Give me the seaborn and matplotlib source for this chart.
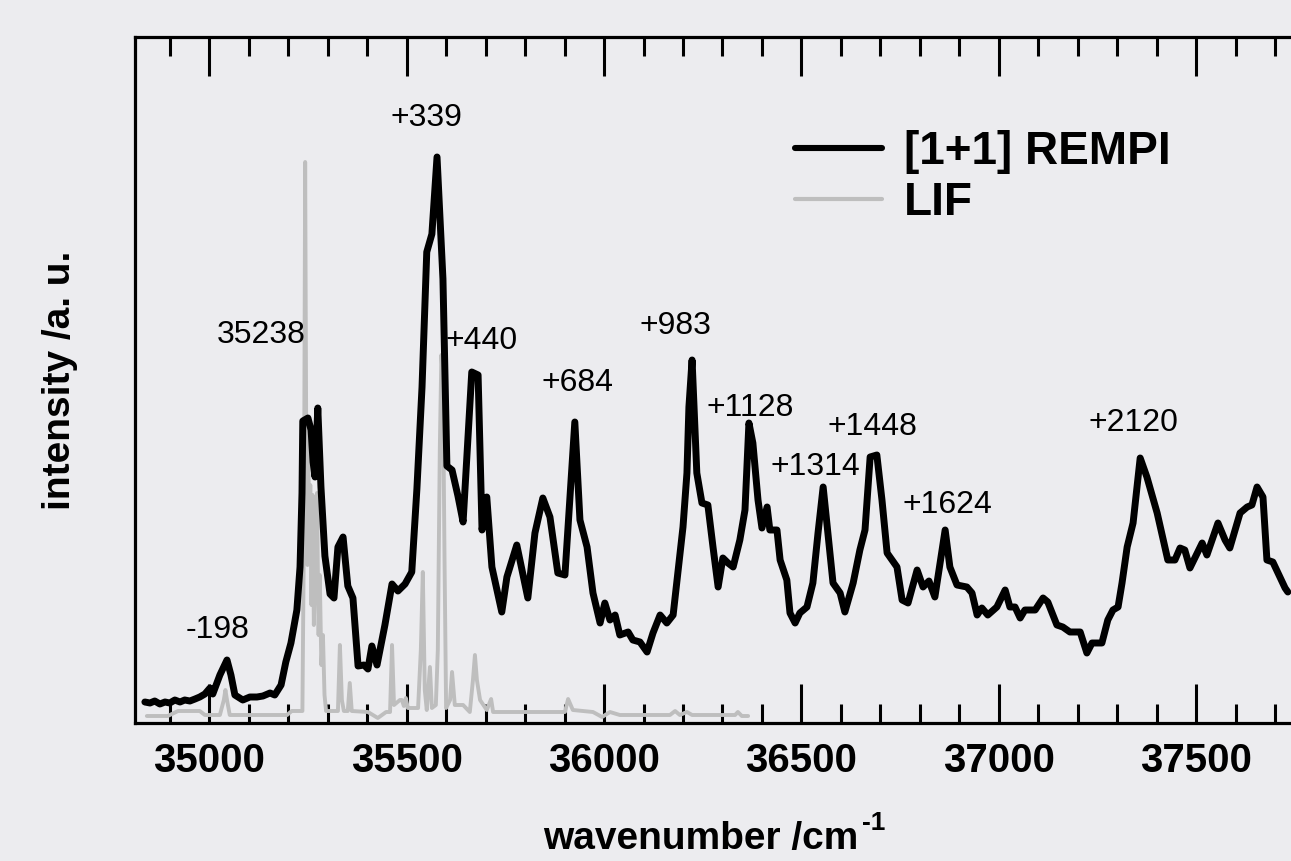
import matplotlib
matplotlib.use("Agg")
import matplotlib.pyplot as plt
import seaborn as sns
import pandas as pd
from matplotlib.ticker import MultipleLocator

# ---------------- data ----------------
rempi_wn = [34837, 34850, 34862, 34875, 34888, 34900, 34913, 34926, 34938, 34951,
            34964, 34976, 34989, 35002, 35009, 35027, 35045, 35055, 35065, 35085,
            35103, 35121, 35136, 35154, 35166, 35182, 35194, 35207, 35222, 35230,
            35235, 35237, 35250, 35258, 35263, 35268, 35275, 35283, 35293, 35306,
            35316, 35326, 35339, 35351, 35364, 35377, 35392, 35402, 35412, 35425,
            35445, 35463, 35478, 35496, 35513, 35526, 35539, 35551, 35564, 35577,
            35584, 35592, 35602, 35615, 35630, 35643, 35665, 35681, 35691, 35703,
            35716, 35741, 35754, 35779, 35807, 35825, 35845, 35863, 35883, 35901,
            35926, 35939, 35957, 35972, 35990, 36002, 36015, 36028, 36040, 36061,
            36073, 36091, 36109, 36124, 36142, 36159, 36175, 36187, 36200, 36210,
            36215, 36223, 36235, 36248, 36263, 36276, 36289, 36301, 36314, 36327,
            36344, 36357, 36367, 36377, 36390, 36400, 36413, 36420, 36438, 36446,
            36463, 36471, 36484, 36496, 36514, 36529, 36542, 36555, 36567, 36580,
            36598, 36610, 36631, 36648, 36661, 36674, 36691, 36704, 36717, 36742,
            36755, 36770, 36793, 36808, 36823, 36838, 36864, 36876, 36894, 36919,
            36932, 36945, 36957, 36972, 36995, 37016, 37028, 37041, 37054, 37066,
            37092, 37112, 37124, 37147, 37162, 37180, 37206, 37223, 37236, 37261,
            37276, 37289, 37302, 37312, 37325, 37340, 37358, 37375, 37401, 37428,
            37446, 37459, 37471, 37484, 37515, 37527, 37555, 37573, 37585, 37611,
            37629, 37641, 37654, 37669, 37679, 37694, 37725, 37732]
rempi_int = [23, 22, 24, 21, 23, 22, 25, 23, 25, 24,
             26, 28, 31, 37, 31, 50, 65, 50, 30, 25,
             28, 28, 29, 32, 30, 40, 63, 82, 115, 158,
             232, 304, 307, 295, 263, 248, 317, 238, 169, 131,
             127, 178, 188, 139, 127, 59, 60, 56, 79, 60,
             100, 141, 134, 141, 153, 236, 338, 473, 491, 568,
             510, 446, 259, 255, 229, 203, 353, 350, 195, 228,
             158, 113, 148, 180, 127, 192, 227, 208, 152, 150,
             303, 205, 178, 132, 102, 122, 105, 110, 90, 93,
             85, 83, 73, 92, 110, 102, 110, 152, 198, 252,
             318, 365, 252, 222, 220, 178, 138, 167, 162, 158,
             185, 215, 302, 282, 225, 197, 218, 195, 195, 165,
             145, 112, 102, 112, 118, 142, 192, 238, 192, 142,
             132, 113, 142, 175, 195, 268, 270, 225, 172, 158,
             125, 122, 155, 138, 144, 128, 195, 158, 140, 138,
             132, 110, 117, 110, 118, 135, 118, 118, 107, 115,
             115, 127, 123, 100, 98, 93, 93, 72, 82, 82,
             105, 115, 118, 142, 178, 202, 267, 248, 212, 165,
             165, 177, 175, 157, 182, 170, 202, 185, 177, 212,
             218, 220, 238, 228, 165, 163, 137, 133]

lif_wn = [34842, 34895, 34921, 34976, 34989, 35027, 35037, 35041, 35045, 35052,
          35197, 35209, 35236, 35240, 35243, 35246, 35249, 35251, 35253, 35256,
          35259, 35262, 35265, 35268, 35273, 35277, 35280, 35284, 35288, 35292,
          35296, 35326, 35331, 35336, 35341, 35351, 35356, 35361, 35402, 35427,
          35448, 35458, 35463, 35468, 35483, 35488, 35493, 35498, 35503, 35529,
          35536, 35541, 35546, 35551, 35559, 35564, 35574, 35579, 35584, 35588,
          35592, 35596, 35600, 35610, 35615, 35622, 35643, 35660, 35668, 35673,
          35678, 35686, 35703, 35714, 35719, 35901, 35909, 35921, 35972, 35995,
          36015, 36040, 36167, 36180, 36192, 36210, 36223, 36332, 36339, 36349,
          36365]
lif_int = [9, 9, 14, 14, 10, 10, 25, 35, 25, 10,
           10, 14, 14, 200, 563, 250, 160, 300, 180, 240,
           120, 230, 100, 150, 232, 90, 150, 60, 90, 30,
           14, 14, 80, 25, 14, 14, 42, 14, 13, 7,
           13, 13, 80, 20, 25, 25, 19, 27, 17, 17,
           75, 153, 35, 15, 58, 17, 20, 75, 275, 370,
           345, 165, 17, 25, 53, 20, 20, 13, 45, 70,
           45, 25, 15, 26, 13, 13, 26, 15, 13, 8,
           13, 10, 10, 14, 10, 13, 10, 10, 13, 9,
           9]

series_names = ["[1+1] REMPI", "LIF"]

peak_labels = ["-198", "35238", "+339", "+440", "+684", "+983", "+1128",
               "+1314", "+1448", "+1624", "+2120"]
label_x = [35022, 35132, 35551, 35691, 35934, 36180, 36370, 36535, 36679, 36869, 37342]
label_y = [95, 390, 607, 384, 342, 399, 317, 258, 298, 220, 302]

# ---------------- figure ----------------
sns.set_theme(style="white")
plt.rcParams["font.family"] = ["Liberation Sans", "DejaVu Sans"]
plt.rcParams["text.color"] = "black"
plt.rcParams["axes.labelcolor"] = "black"
plt.rcParams["xtick.color"] = "black"
plt.rcParams["ytick.color"] = "black"
bg = "#ECECEF"
colors = {series_names[0]: "black", series_names[1]: "#BEBEBE"}
widths = {series_names[0]: 5.0, series_names[1]: 2.8}

df = pd.concat([
    pd.DataFrame({"wavenumber": rempi_wn, "intensity": rempi_int, "spectrum": series_names[0]}),
    pd.DataFrame({"wavenumber": lif_wn, "intensity": lif_int, "spectrum": series_names[1]}),
])

fig = plt.figure(figsize=(12.91, 8.61), dpi=100, facecolor=bg)
ax = fig.add_axes([135 / 1291, (861 - 723) / 861, (1291 - 135) / 1291, (723 - 37) / 861])
ax.set_facecolor(bg)

# LIF first (underneath), then REMPI
for name in series_names[::-1]:
    sns.lineplot(data=df[df["spectrum"] == name], x="wavenumber", y="intensity",
                 color=colors[name], linewidth=widths[name], estimator=None,
                 sort=False, ax=ax, label=name)

ax.set_xlim(34812, 37740)
ax.set_ylim(2, 688)

for txt, x, y in zip(peak_labels, label_x, label_y):
    ax.text(x, y, txt, ha="center", va="center", fontsize=23, color="black")

# spines & ticks
for side in ["left", "top", "bottom"]:
    ax.spines[side].set_visible(True)
    ax.spines[side].set_color("black")
    ax.spines[side].set_linewidth(2.3)
ax.spines["right"].set_visible(False)

ax.xaxis.set_major_locator(MultipleLocator(500))
ax.xaxis.set_minor_locator(MultipleLocator(100))
ax.tick_params(axis="x", which="major", direction="in", top=True, bottom=True,
               length=28, width=2.2, color="black", labelsize=29, pad=14,
               labelcolor="black")
ax.tick_params(axis="x", which="minor", direction="in", top=True, bottom=True,
               length=13.5, width=2.2, color="black")
ax.set_yticks([])
for lab in ax.get_xticklabels():
    lab.set_fontweight("bold")

ax.set_xlabel("wavenumber /cm", fontsize=28, fontweight="bold", labelpad=29,
              color="black")
ax.xaxis.label.set_x(0.489)
ax.set_ylabel("intensity /a. u.", fontsize=28, fontweight="bold", labelpad=41,
              color="black")

# legend
handles, labels = ax.get_legend_handles_labels()
hmap = dict(zip(labels, handles))
h = [hmap[n] for n in series_names]
leg = ax.legend(h, series_names, loc="upper left",
                bbox_to_anchor=(795 / 1291, 1 - 130 / 861), bbox_transform=fig.transFigure,
                frameon=False, borderpad=0, borderaxespad=0, handlelength=1.9,
                handletextpad=0.48, labelspacing=0.15,
                prop={"size": 33, "weight": "bold"})
for t in leg.get_texts():
    t.set_color("black")
leg.get_lines()[0].set_linewidth(4.4)
leg.get_lines()[1].set_linewidth(3.0)

# superscript on the x label, placed right after the label text
fig.canvas.draw()
bb = ax.xaxis.label.get_window_extent()
fig.text(bb.x1 / fig.bbox.width + 4 / 1291, bb.y1 / fig.bbox.height - 2 / 861, "-1",
         fontsize=19, fontweight="bold", ha="left", va="center", color="black")

fig.savefig("out.png", dpi=100, facecolor=bg)
